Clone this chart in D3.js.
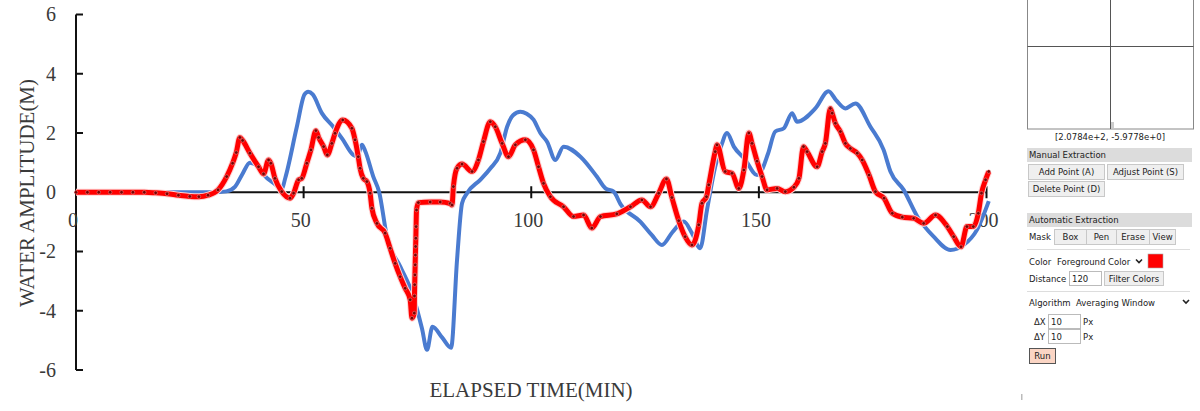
<!DOCTYPE html>
<html><head><meta charset="utf-8">
<script src="https://cdn.jsdelivr.net/npm/d3@7/dist/d3.min.js"></script>
<style>
html,body{margin:0;padding:0;background:#fff;}
svg{display:block;}
</style>
</head><body>
<svg id="chart" width="1200" height="411"></svg>
<script>
// ---- data ----
const xTicks = [0, 50, 100, 150, 200];
const yTicks = [-6, -4, -2, 0, 2, 4, 6];
const xLabel = "ELAPSED TIME(MIN)";
const yLabel = "WATER AMPLITUDE(M)";

const blueT = [0,10,20,30,33,34.9,36.5,38.2,40.4,41.5,43.5,45.2,46,48.5,50.2,51,52,54,56.5,58.5,60.9,61.8,62.8,63.5,65.3,66.6,68.3,71.2,74.1,76,77.1,78.3,80.4,82.4,83.7,84.8,85.9,88.8,91,93.2,94.7,96,97.6,99,100.5,102,103.5,105.3,107.1,110.8,114.4,116.3,118.1,119.6,124,126.5,128.7,131,133.5,135.3,137.1,138.6,140.4,141.8,143,144.5,147,149.6,150.3,152,153.6,155.5,157.3,158.4,162.4,165.3,167,169,171.2,174.5,177.4,178.9,181.8,184.8,188.4,192.1,195,197.9,200.5];
const blueV = [0,0,0,0,0.03,0.18,0.6,1.0,0.8,0.55,0.3,0.12,0.5,2.2,3.3,3.39,3.3,2.67,2.21,1.8,1.26,1.2,1.6,1.4,0.53,0,-1.5,-2.5,-3.52,-4.6,-5.32,-4.54,-4.9,-5.25,-2.28,-0.37,-0.03,0.42,0.8,1.32,2.21,2.6,2.72,2.65,2.45,2.0,1.7,1.09,1.54,1.2,0.53,0.13,0.02,-0.4,-1.0,-1.45,-1.78,-1.35,-0.99,-1.38,-1.89,-0.6,0.86,1.6,2.0,1.54,1.1,0.58,0.65,1.3,2.05,2.16,2.67,2.38,2.83,3.41,3.1,2.83,3.0,2.21,1.43,0.7,0.08,-0.82,-1.5,-1.95,-1.78,-1.27,-0.3];

const redT = [0,2.5,5,7.5,10,12.5,15,17.5,20,22.5,25,27,29,31.2,33.1,34.4,35.2,36,36.6,38.2,40.1,41.2,42.3,42.8,43.7,45.2,47,47.8,48.9,49.6,50.7,51.6,52.7,53.3,54.4,55.2,56.2,56.9,58.6,60.6,61.3,62,62.4,63.1,63.9,64.6,65,66.1,67.9,69,70.1,71.2,72.3,73.4,73.8,74.3,74.35,74.4,74.45,74.5,74.55,74.6,74.65,74.7,74.8,75.2,77.8,80,82.2,82.6,82.9,83.7,84.8,87,88.4,89.5,91,92.1,93.6,95,96.5,98.7,100.5,101.6,102.7,104.2,107.1,109.3,111.5,113.3,115.2,118.8,121.8,124.3,126.2,128,129.7,130.9,132.4,133.8,135.3,136.8,137.5,138.5,139,140.4,140.8,142.6,144.1,145.6,146.7,147.8,148.5,149.6,150.7,151.8,154,155.8,157.7,158.8,159.8,160.6,162.8,163.9,164.6,165.7,166.1,166.8,167.9,169,170.1,171.6,172.7,174.2,175.6,177.5,179.3,181.5,184,186.2,188.8,191.4,192.8,194.4,195.7,197.1,198.2,198.9,199.8,200.5];
const redV = [0,0,0,0,0,0,0,-0.02,-0.05,-0.1,-0.14,-0.15,-0.1,0.08,0.53,0.98,1.34,1.85,1.75,1.32,0.86,0.62,1.09,0.98,0.47,0.02,-0.2,-0.03,0.42,0.47,0.98,1.43,2.08,1.85,1.54,1.26,1.65,1.99,2.44,2.16,1.77,1.2,0.81,0.47,0.36,-0.03,-0.54,-1.05,-1.38,-1.89,-2.4,-2.85,-3.24,-3.63,-4.25,-4.08,-3.5,-3.12,-2.79,-2.45,-2.12,-1.83,-1.55,-1.16,-0.6,-0.35,-0.33,-0.33,-0.38,-0.43,0.19,0.81,0.95,0.7,1.09,1.71,2.38,2.21,1.65,1.2,1.6,1.77,1.43,0.86,0.3,-0.15,-0.49,-0.82,-0.77,-1.21,-0.82,-0.73,-0.49,-0.26,-0.49,-0.03,0.45,-0.18,-0.96,-1.5,-1.78,-1.1,-0.37,-0.15,0.25,1.37,1.6,0.7,0.64,0.13,0.75,2.0,1.65,1.05,0.53,0.08,0.13,0.02,0.17,0.47,1.54,1.37,0.86,1.37,1.65,2.83,2.67,2.33,2.05,1.65,1.48,1.32,1.09,0.58,0.02,-0.2,-0.71,-0.84,-0.88,-1.05,-0.77,-1.16,-1.5,-1.84,-1.16,-1.16,-0.71,-0.03,0.42,0.7];

// ---- chart ----
const svg = d3.select("#chart");
const x = d3.scaleLinear().domain([0, 200]).range([76, 986.5]);
const y = d3.scaleLinear().domain([-6, 6]).range([370, 14.5]);
const serif = "'Liberation Serif','Times New Roman',serif";
const textCol = "#3a3a3a";

// y axis
svg.append("line").attr("x1", x(0)).attr("x2", x(0)).attr("y1", y(6)).attr("y2", y(-6))
  .attr("stroke", "#111").attr("stroke-width", 2);
svg.selectAll(".ytick").data(yTicks).enter().append("line")
  .attr("x1", x(0)).attr("x2", x(0) + 7).attr("y1", d => y(d)).attr("y2", d => y(d))
  .attr("stroke", "#111").attr("stroke-width", 2);
svg.selectAll(".ylab").data(yTicks).enter().append("text")
  .attr("x", 56).attr("y", d => y(d)).attr("dy", "0.34em")
  .attr("text-anchor", "end").attr("font-family", serif).attr("font-size", 20)
  .attr("fill", textCol).text(d => d);

// x axis at zero
svg.append("line").attr("x1", x(0)).attr("x2", x(200)).attr("y1", y(0)).attr("y2", y(0))
  .attr("stroke", "#111").attr("stroke-width", 2);
svg.selectAll(".xtick").data(xTicks.filter(d => d > 0)).enter().append("line")
  .attr("x1", d => x(d)).attr("x2", d => x(d)).attr("y1", y(0) - 6).attr("y2", y(0) + 6)
  .attr("stroke", "#111").attr("stroke-width", 2);
svg.selectAll(".xlab").data(xTicks).enter().append("text")
  .attr("x", d => x(d) - 3).attr("y", y(0) + 35)
  .attr("text-anchor", "middle").attr("font-family", serif).attr("font-size", 20)
  .attr("fill", textCol).text(d => d);

// axis titles
svg.append("text").attr("x", 531).attr("y", 397).attr("text-anchor", "middle")
  .attr("font-family", serif).attr("font-size", 21).attr("fill", textCol).text(xLabel);
svg.append("text").attr("transform", "translate(34,193) rotate(-90)").attr("text-anchor", "middle")
  .attr("font-family", serif).attr("font-size", 21).attr("fill", textCol).text(yLabel);

// series
const blue = blueT.map((t, i) => [t, blueV[i]]);
const red = redT.map((t, i) => [t, redV[i]]);
const line = d3.line().x(d => x(d[0])).y(d => y(d[1])).curve(d3.curveMonotoneX);

svg.append("path").attr("d", line(blue)).attr("fill", "none")
  .attr("stroke", "#4a7bd0").attr("stroke-width", 4).attr("stroke-linejoin", "round");
svg.append("path").attr("d", line(red)).attr("fill", "none")
  .attr("stroke", "#ffd2d2").attr("stroke-width", 7).attr("stroke-linejoin", "round");
svg.append("path").attr("d", line(red)).attr("fill", "none")
  .attr("stroke", "#ff0000").attr("stroke-width", 5).attr("stroke-linejoin", "round");
svg.selectAll(".dot").data(red).enter().append("circle")
  .attr("cx", d => x(d[0])).attr("cy", d => y(d[1])).attr("r", 1.8)
  .attr("fill", "#7a0000").attr("stroke", "#ffb0b0").attr("stroke-width", 0.4);

// ---- side panel (digitizer UI) ----
const ui = "'DejaVu Sans',Verdana,sans-serif";
const fs = 8.5;
const p = svg.append("g");
// magnifier box
p.append("rect").attr("x", 1027.5).attr("y", -2).attr("width", 166).attr("height", 131)
  .attr("fill", "#fff").attr("stroke", "#888").attr("stroke-width", 1);
p.append("line").attr("x1", 1110.5).attr("x2", 1110.5).attr("y1", -2).attr("y2", 129).attr("stroke", "#555");
p.append("line").attr("x1", 1027.5).attr("x2", 1193.5).attr("y1", 46.5).attr("y2", 46.5).attr("stroke", "#555");
p.append("rect").attr("x", 1111).attr("y", 122).attr("width", 3).attr("height", 6).attr("fill", "#ccc");
p.append("text").attr("x", 1110).attr("y", 139.5).attr("text-anchor", "middle")
  .attr("font-family", ui).attr("font-size", fs).attr("fill", "#222").text("[2.0784e+2, -5.9778e+0]");

function header(y0, label) {
  p.append("rect").attr("x", 1027).attr("y", y0).attr("width", 165).attr("height", 14).attr("fill", "#dcdcdc");
  p.append("text").attr("x", 1029).attr("y", y0 + 10).attr("font-family", ui).attr("font-size", fs)
    .attr("fill", "#222").text(label);
}
function button(x0, y0, w, h, label, bg, stroke) {
  p.append("rect").attr("x", x0 + 0.5).attr("y", y0 + 0.5).attr("width", w).attr("height", h)
    .attr("fill", bg || "#efefef").attr("stroke", stroke || "#c8c8c8");
  p.append("text").attr("x", x0 + w / 2 + 0.5).attr("y", y0 + h / 2 + 3.5).attr("text-anchor", "middle")
    .attr("font-family", ui).attr("font-size", fs).attr("fill", "#222").text(label);
}
function label(x0, y0, t) {
  p.append("text").attr("x", x0).attr("y", y0).attr("font-family", ui).attr("font-size", fs)
    .attr("fill", "#222").text(t);
}
function input(x0, y0, w, h, t) {
  p.append("rect").attr("x", x0 + 0.5).attr("y", y0 + 0.5).attr("width", w).attr("height", h)
    .attr("fill", "#fff").attr("stroke", "#bbb");
  label(x0 + 3, y0 + h / 2 + 3.5, t);
}
function sep(y0) {
  p.append("line").attr("x1", 1027).attr("x2", 1190).attr("y1", y0 + 0.5).attr("y2", y0 + 0.5).attr("stroke", "#ddd");
}

header(148, "Manual Extraction");
button(1028, 164, 76, 15, "Add Point (A)");
button(1107, 164, 76, 15, "Adjust Point (S)");
button(1028, 181, 76, 15, "Delete Point (D)");
header(213, "Automatic Extraction");
label(1029, 240, "Mask");
button(1054, 229, 32, 15, "Box");
button(1086, 229, 30, 15, "Pen");
button(1116, 229, 33, 15, "Erase");
button(1149, 229, 26, 15, "View");
sep(249);
label(1029, 265, "Color");
label(1057, 265, "Foreground Color");
p.append("path").attr("d", "M1136,259.5 l3,3 l3,-3").attr("fill", "none").attr("stroke", "#222").attr("stroke-width", 1.6);
p.append("rect").attr("x", 1148).attr("y", 254).attr("width", 15).attr("height", 14).attr("fill", "#ff0000").attr("stroke", "#aaa").attr("stroke-width", 0.6);
label(1029, 282, "Distance");
input(1069, 271, 32, 14, "120");
button(1104, 271, 59, 14, "Filter Colors");
sep(291);
label(1029, 306, "Algorithm");
label(1076, 306, "Averaging Window");
p.append("path").attr("d", "M1183,300 l3,3 l3,-3").attr("fill", "none").attr("stroke", "#222").attr("stroke-width", 1.6);
label(1034, 325, "\u0394X");
input(1048, 314, 32, 14, "10");
label(1083, 325, "Px");
label(1034, 340, "\u0394Y");
input(1048, 329, 32, 14, "10");
label(1083, 340, "Px");
button(1029, 348, 26, 15, "Run", "#fbd5c4", "#555");
p.append("rect").attr("x", 1021).attr("y", 394).attr("width", 1.5).attr("height", 6).attr("fill", "#bbb");
</script>
</body></html>
